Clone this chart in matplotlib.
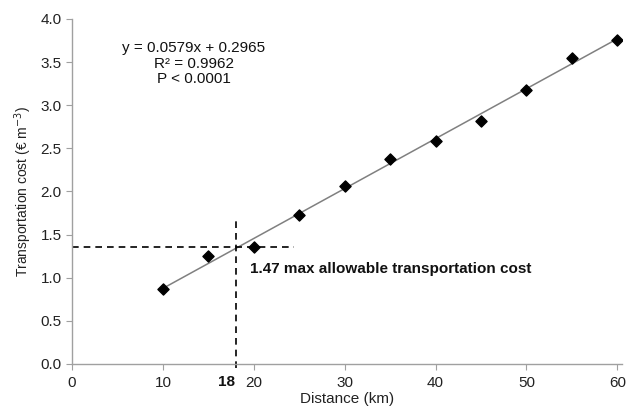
import matplotlib
matplotlib.use("Agg")
import matplotlib.pyplot as plt
import numpy as np

plt.rcParams['font.family'] = ['Liberation Sans', 'DejaVu Sans']

distance = [10, 15, 20, 25, 30, 35, 40, 45, 50, 55, 60]
cost = [0.87, 1.25, 1.35, 1.73, 2.06, 2.38, 2.59, 2.82, 3.18, 3.55, 3.76]
slope, intercept = 0.0579, 0.2965
xticks = [0, 10, 20, 30, 40, 50, 60]
yticks = [0.0, 0.5, 1.0, 1.5, 2.0, 2.5, 3.0, 3.5, 4.0]
threshold_x = 18
threshold_y = 1.35

fig = plt.figure(figsize=(6.32, 4.13), dpi=100)
ax = fig.add_axes([0.114, 0.119, 0.870, 0.835])

xf = np.array([10, 60])
ax.plot(xf, slope * xf + intercept, color='#808080', lw=1.1, zorder=2)
ax.scatter(distance, cost, marker='D', s=32, color='black', zorder=3)

ax.plot([0, 24.4], [threshold_y, threshold_y], color='black', lw=1.2, ls=(0, (4, 3)), zorder=2)
ax.plot([threshold_x, threshold_x], [-0.05, 1.67], color='black', lw=1.2, ls=(0, (4, 3)), zorder=2,
        clip_on=False)

ax.set_xlim(0, 60.5)
ax.set_ylim(0, 4.0)
ax.set_xticks(xticks)
ax.set_xticklabels([str(t) for t in xticks])
ax.set_yticks(yticks)
ax.set_yticklabels([f"{t:.1f}" for t in yticks])

for s in ['top', 'right']:
    ax.spines[s].set_visible(False)
for s in ['left', 'bottom']:
    ax.spines[s].set_color('#a0a0a0')
    ax.spines[s].set_linewidth(1.0)
ax.tick_params(axis='both', colors='#a0a0a0', labelcolor='#222222', labelsize=11, length=4, direction='out')
ax.tick_params(axis='x', pad=5)

ax.text(threshold_x - 0.1, -0.13, '18', ha='right', va='top', fontsize=11, fontweight='bold',
        color='#111111', transform=ax.transData)

ax.text(13.4, 3.48, 'y = 0.0579x + 0.2965\nR² = 0.9962\nP < 0.0001', ha='center', va='center',
        fontsize=11, linespacing=1.15, color='#111111')
ax.text(19.6, 1.10, '1.47 max allowable transportation cost', ha='left', va='center',
        fontsize=11, fontweight='bold', color='#111111')

ax.set_xlabel('Distance (km)', fontsize=11, labelpad=1, color='#222222')
ax.set_ylabel('Transportation cost (€ m$^{-3}$)', fontsize=10, labelpad=5, color='#222222')

fig.savefig('out.png', dpi=100)
